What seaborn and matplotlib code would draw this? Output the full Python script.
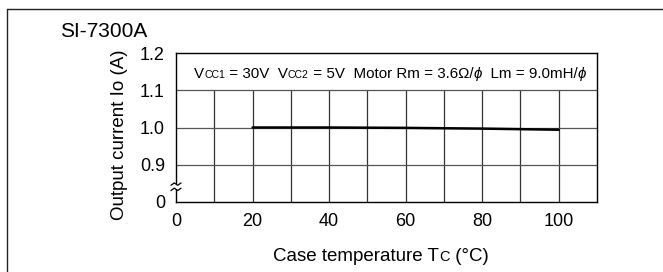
import matplotlib
matplotlib.use('Agg')
import matplotlib.pyplot as plt
import seaborn as sns
import pandas as pd
from matplotlib.lines import Line2D
from matplotlib.patches import Rectangle

# ---- data ----
temps = [20, 40, 60, 80, 100]
current = [1.000, 1.000, 0.999, 0.997, 0.994]
x_ticks = [0, 20, 40, 60, 80, 100]
y_ticks = [0.8, 0.9, 1.0, 1.1, 1.2]
y_tick_labels = ['0', '0.9', '1.0', '1.1', '1.2']
title = 'SI-7300A'
y_label = 'Output current Io (A)'

sns.set_theme(style='white')
plt.rcParams['font.family'] = ['Liberation Sans', 'DejaVu Sans']

W, H = 663, 272
fig = plt.figure(figsize=(W / 100, H / 100), dpi=100)
fig.patch.set_facecolor('white')
ax = fig.add_axes([176 / W, 70 / H, 421 / W, 149 / H])

df = pd.DataFrame({'Tc': temps, 'Io': current})
sns.lineplot(data=df, x='Tc', y='Io', ax=ax, color='black', lw=1.8, zorder=4)

ax.set_xlim(0, 110)
ax.set_ylim(0.8, 1.2)
ax.set_xticks(x_ticks)
ax.set_yticks(y_ticks, y_tick_labels)
ax.tick_params(length=0, labelsize=13, colors='black')
ax.tick_params(axis='x', pad=8)
ax.tick_params(axis='y', pad=8)
ax.set_xlabel('')
ax.set_ylabel('')
for s in ax.spines.values():
    s.set_color('black')
    s.set_linewidth(1.0)

for xv in range(10, 110, 10):
    ax.axvline(xv, ymax=0.75, color='#333333', lw=0.9, zorder=2)
for yv in [0.9, 1.0, 1.1]:
    ax.axhline(yv, color='#555555', lw=0.9, zorder=2)

# axis break mark
ax.add_patch(Rectangle((-0.012, 0.085), 0.024, 0.035, transform=ax.transAxes,
                       facecolor='white', edgecolor='none', clip_on=False, zorder=5))
for yb in (0.085, 0.12):
    ax.plot([-0.012, -0.004, 0.004, 0.012], [yb - 0.008, yb + 0.008, yb - 0.008, yb + 0.008],
            transform=ax.transAxes, color='black', lw=0.9, clip_on=False, zorder=6)

renderer = fig.canvas.get_renderer()


def seq_text(x_px, y_px, pieces, ha='left'):
    texts = []
    widths = []
    for s, size, style in pieces:
        t = fig.text(0, 0, s, fontsize=size, style=style, color='black', va='baseline')
        widths.append(t.get_window_extent(renderer).width)
        texts.append(t)
    total = sum(widths)
    x0 = x_px - (total / 2 if ha == 'center' else 0)
    for t, w in zip(texts, widths):
        t.set_position((x0 / W, 1 - y_px / H))
        x0 += w


# annotation box text
A, S = 10.9, 7.6
seq_text(194, 78, [
    ('V', A, 'normal'), ('CC1', S, 'normal'), (' = 30V  V', A, 'normal'),
    ('CC2', S, 'normal'), (' = 5V  Motor Rm = 3.6Ω/', A, 'normal'),
    ('ϕ', A, 'italic'), ('  Lm = 9.0mH/', A, 'normal'), ('ϕ', A, 'italic'),
])

# x label
seq_text(381, 261, [
    ('Case temperature T', 13.5, 'normal'), ('C', 10.5, 'normal'), (' (°C)', 13.5, 'normal'),
], ha='center')

fig.text(60 / W, 1 - 37 / H, title, fontsize=15, color='black', va='baseline')
fig.text(119 / W, 1 - 135 / H, y_label, fontsize=13.5, rotation=90,
         ha='center', va='center', color='black')

# outer frame (top & left)
fig.add_artist(Line2D([7 / W, 1.0], [1 - 9 / H, 1 - 9 / H], color='#222222', lw=1.0,
                      transform=fig.transFigure))
fig.add_artist(Line2D([7 / W, 7 / W], [0, 1 - 9 / H], color='#222222', lw=1.0,
                      transform=fig.transFigure))

fig.savefig('out.png', dpi=100)
